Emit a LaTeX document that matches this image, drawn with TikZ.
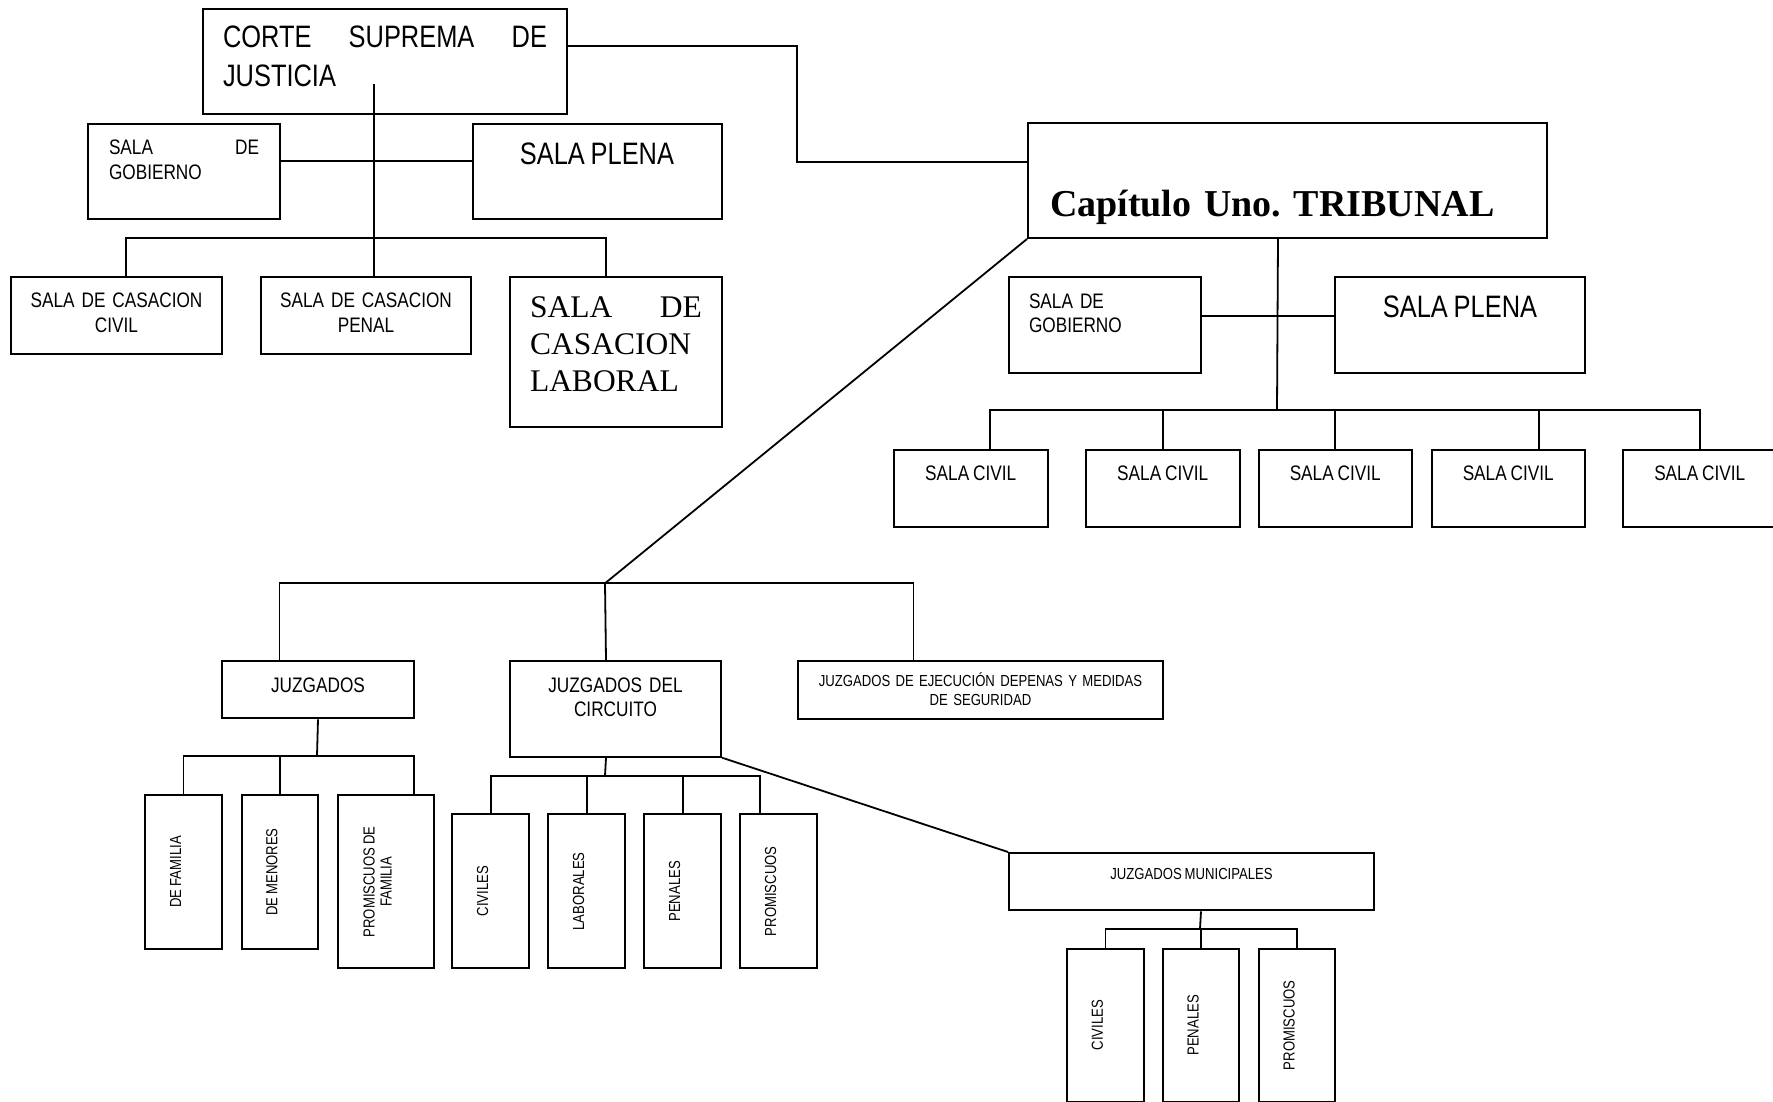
\documentclass[tikz,border=0pt]{standalone}
\usepackage{fontspec}
\newfontfamily\narrowsf{Liberation Sans}[FakeStretch=0.82,WordSpace=0.82]
\newfontfamily\romanf{Liberation Serif}
\newcommand\sfsz[2]{\narrowsf\fontsize{#1}{#2}\selectfont}
\newcommand\vtext[1]{\rotatebox{90}{#1}\hspace*{16pt}}
\frenchspacing
\begin{document}
\begin{tikzpicture}[x=1pt,y=-1pt,line width=1.8pt]
        \useasboundingbox (0,0) rectangle (1773,1101);
        \begin{scope}[every node/.style={draw,line width=2pt,anchor=north west,inner ysep=0pt},
                      tall/.style={font=\sfsz{16}{17}}]
            \node[minimum width=364pt,text width=324pt,inner xsep=20pt,align=left,text height=38.7pt,text depth=66.3pt,font=\sfsz{31}{38.3}] (CS) at (202,8) {CORTE\hfill SUPREMA\hfill DE\\JUSTICIA};
            \node[minimum width=192pt,text width=150pt,inner xsep=20pt,align=left,text height=30.3pt,text depth=64.7pt,font=\sfsz{21}{25}] (SG1) at (87,123) {SALA\hfill DE\\GOBIERNO};
            \node[minimum width=249pt,text height=40.3pt,text depth=54.7pt,font=\sfsz{31}{37}] (SP1) at (471.5,123) {SALA PLENA};
            \node[text width=201pt,inner xsep=5pt,align=center,text height=30pt,text depth=46.7pt,font=\sfsz{21}{25}] (SCC) at (10,276) {SALA DE CASACION\\CIVIL};
            \node[text width=200pt,inner xsep=5pt,align=center,text height=30pt,text depth=46.7pt,font=\sfsz{21}{25}] (SCP) at (260,276) {SALA DE CASACION\\PENAL};
            \node[text width=172pt,inner xsep=20pt,align=left,text height=40pt,text depth=109.7pt,font=\romanf\fontsize{31.5}{37}\selectfont] (SCL) at (509,276) {SALA\hfill DE\\CASACION\\LABORAL};
            \node[text width=475pt,inner xsep=22pt,align=left,text height=93pt,text depth=22pt,font=\romanf\bfseries\fontsize{38}{44}\selectfont] (TR) at (1027,122) {Capítulo Uno. TRIBUNAL};
            \node[text width=152pt,inner xsep=20pt,align=left,text height=31.3pt,text depth=64.7pt,font=\sfsz{21}{23.7}] (SG2) at (1008,276) {SALA DE\\GOBIERNO};
            \node[minimum width=250pt,text height=40.7pt,text depth=55.3pt,font=\sfsz{31}{37}] (SP2) at (1334,276) {SALA PLENA};
            \node[minimum width=153.5pt,text height=30pt,text depth=47pt,font=\sfsz{21}{25}] (C1) at (893,449) {SALA CIVIL};
            \node[minimum width=153.5pt,text height=30pt,text depth=47pt,font=\sfsz{21}{25}] (C2) at (1085,449) {SALA CIVIL};
            \node[minimum width=153.5pt,text height=30pt,text depth=47pt,font=\sfsz{21}{25}] (C3) at (1257.5,449) {SALA CIVIL};
            \node[minimum width=153.5pt,text height=30pt,text depth=47pt,font=\sfsz{21}{25}] (C4) at (1430.5,449) {SALA CIVIL};
            \node[minimum width=153.5pt,text height=30pt,text depth=47pt,font=\sfsz{21}{25}] (C5) at (1622,449) {SALA CIVIL};
            \node[minimum width=192pt,text height=31pt,text depth=26.3pt,font=\sfsz{21}{25}] (JZ) at (221,660) {JUZGADOS};
            \node[text width=201pt,inner xsep=5pt,align=center,text height=31pt,text depth=64.7pt,font=\sfsz{21}{24}] (JC) at (509,660) {JUZGADOS DEL\\CIRCUITO};
            \node[text width=355pt,inner xsep=5pt,align=center,text height=25pt,text depth=32.7pt,font=\sfsz{16}{19}] (JE) at (797,660) {JUZGADOS DE EJECUCIÓN DEPENAS Y MEDIDAS\\DE SEGURIDAD};
            \node[minimum width=365pt,text height=26.3pt,text depth=31pt,font=\sfsz{16}{19}] (JM) at (1008,852) {JUZGADOS MUNICIPALES};
            \node[tall,minimum width=77pt,minimum height=153.4pt] (F1) at (144,794.3) {\vtext{DE FAMILIA}};
            \node[tall,minimum width=76.6pt,minimum height=153.4pt] (F2) at (240.6,794.3) {\vtext{DE MENORES}};
            \node[tall,minimum width=96pt,minimum height=173pt] (F3) at (336.5,794.3) {\vtext{\parbox[c]{130pt}{\centering PROMISCUOS DE\\FAMILIA}}};
            \node[tall,minimum width=76.6pt,minimum height=154pt] (K1) at (451.4,813.3) {\vtext{CIVILES}};
            \node[tall,minimum width=76.6pt,minimum height=154pt] (K2) at (547.4,813.3) {\vtext{LABORALES}};
            \node[tall,minimum width=76.6pt,minimum height=154pt] (K3) at (643.4,813.3) {\vtext{PENALES}};
            \node[tall,minimum width=76.6pt,minimum height=154pt] (K4) at (739.4,813.3) {\vtext{PROMISCUOS}};
            \node[tall,minimum width=76.5pt,minimum height=152.5pt] (M1) at (1066.2,948) {\vtext{CIVILES}};
            \node[tall,minimum width=76.5pt,minimum height=152.5pt] (M2) at (1161.8,948) {\vtext{PENALES}};
            \node[tall,minimum width=76.5pt,minimum height=152.5pt] (M3) at (1257.9,948) {\vtext{PROMISCUOS}};
        \end{scope}
        \coordinate (CSstem) at (374,84);
        \coordinate (CSmid) at (374,161);
        \coordinate (CSbus) at (374,237.7);
        \coordinate (CSlink) at (797,46);
        \coordinate (TRbus) at (1277,410);
        \coordinate (JZtop) at (605,583.3);
        \coordinate (JZbus) at (317,756);
        \coordinate (JCbus) at (605,775.7);
        \coordinate (JMbus) at (1200,928.7);
        \draw (CS.east |- CSlink) -- (CSlink) |- ([yshift=18.5pt]TR.west);
        \draw (CSstem) -- (CSstem |- SCP.north);
        \draw (SG1.east |- CSmid) -- (SP1.west |- CSmid);
        \draw ([xshift=9.5pt]SCC.north) |- (CSbus) -| ([xshift=-10pt]SCL.north);
        \draw ([xshift=-9.5pt]TR.south) -- (TRbus);
        \draw ([yshift=9pt]SG2.east) -- ([yshift=9pt]SP2.west);
        \draw ([xshift=19pt]C1.north) |- (TRbus) -| (C5.north);
        \draw (C2.north) -- (C2.north |- TRbus);
        \draw (C3.north) -- (C3.north |- TRbus);
        \draw ([xshift=30.5pt]C4.north) -- ([xshift=30.5pt]C4.north |- TRbus);
        \draw (TR.south west) -- (JZtop);
        \draw ([xshift=-38.5pt]JZ.north) |- (JZtop) -| ([xshift=-67pt]JE.north);
        \draw (JZtop) -- ([xshift=-9.5pt]JC.north);
        \draw (JZ.south) -- (JZbus);
        \draw (F1.north) |- (JZbus) -| ([xshift=28.5pt]F3.north);
        \draw (F2.north) -- (F2.north |- JZbus);
        \draw ([xshift=-9.5pt]JC.south) -- (JCbus);
        \draw (K1.north) |- (JCbus) -| ([xshift=-19pt]K4.north);
        \draw (K2.north) -- (K2.north |- JCbus);
        \draw (K3.north) -- (K3.north |- JCbus);
        \draw (JC.south east) -- (JM.north west);
        \draw ([xshift=9.5pt]JM.south) -- (JMbus);
        \draw (M1.north) |- (JMbus) -| (M3.north);
        \draw (M2.north) -- (M2.north |- JMbus);
    \end{tikzpicture}
\end{document}
